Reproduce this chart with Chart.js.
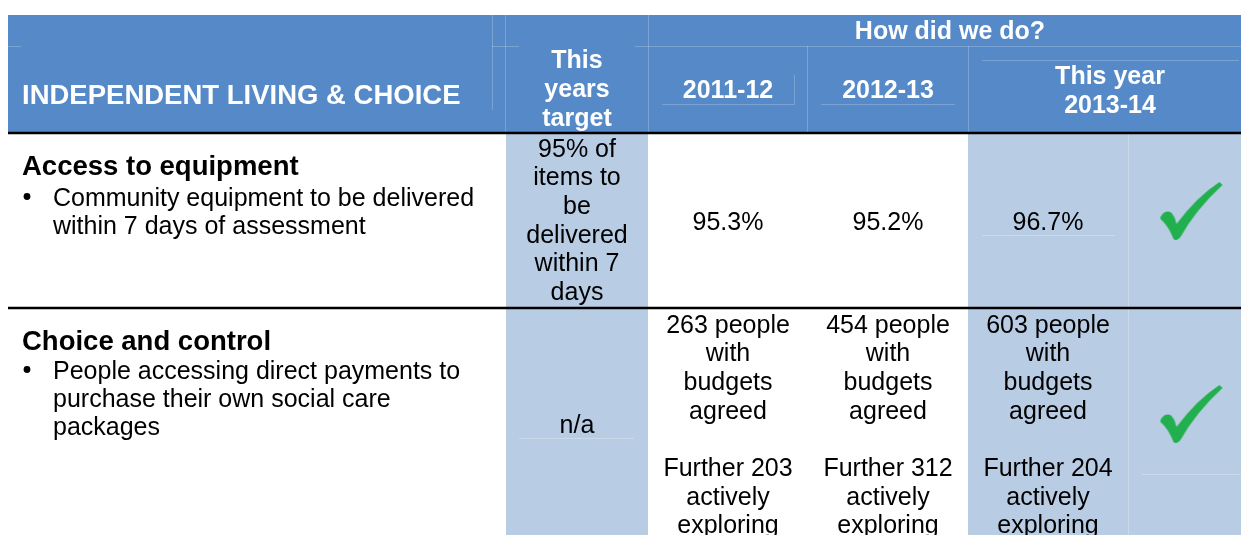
<!DOCTYPE html>
<html>
<head>
<meta charset="utf-8">
<script src="https://cdn.jsdelivr.net/npm/chart.js@4.4.1/dist/chart.umd.min.js"></script>
<style>
  html, body { margin: 0; padding: 0; background: #fff; overflow: hidden; }
  #wrap { width: 1241px; height: 535px; }
</style>
</head>
<body>
<div id="wrap"><canvas id="scorecard" width="1241" height="535"></canvas></div>
<script>
// table content
const sectionTitle = 'INDEPENDENT LIVING & CHOICE';
const groupTitle = 'How did we do?';
const targetHeader = ['This', 'years', 'target'];
const periods = [['2011-12'], ['2012-13'], ['This year', '2013-14']];
const measures = ['Access to equipment', 'Choice and control'];
const measureNotes = [
    ['Community equipment to be delivered', 'within 7 days of assessment'],
    ['People accessing direct payments to', 'purchase their own social care', 'packages']
];
const targets = [['95% of', 'items to', 'be', 'delivered', 'within 7', 'days'], ['n/a']];
const equipmentPct = [95.3, 95.2, 96.7];
const budgetsAgreed = [263, 454, 603];
const activelyExploring = [203, 312, 204];
const targetMet = [true, true];

// layout (page units = px)
const W = 1241, H = 535;
const cols = { label: [8, 506], target: [506, 648], y1: [648, 808], y2: [808, 968], y3: [968, 1128], tick: [1128, 1241] };
const yearCols = ['y1', 'y2', 'y3'];
const headTop = 15, headBottom = 133;
const rows = [[134, 308], [308, 540]];

const BLUE = '#5589c8';
const PALE = '#b8cce4';
const GREEN = '#22b04e';
const FONT = '"Liberation Sans", Arial, Helvetica, sans-serif';

const mid = (c) => (cols[c][0] + cols[c][1]) / 2;

// tick mark image used as point style
function makeTick() {
    const c = document.createElement('canvas');
    c.width = 66; c.height = 62;
    const g = c.getContext('2d');
    g.translate(1, 1);
    g.fillStyle = GREEN;
    g.beginPath();
    g.moveTo(1, 35);
    g.quadraticCurveTo(5, 28, 11, 30);
    g.quadraticCurveTo(15, 33, 17, 42);
    g.quadraticCurveTo(37, 15, 60, 0);
    g.lineTo(63, 3);
    g.quadraticCurveTo(36, 28, 21, 55);
    g.quadraticCurveTo(17, 60, 14, 57);
    g.quadraticCurveTo(9, 44, 1, 37);
    g.closePath();
    g.fill();
    return c;
}

const tickPoints = targetMet.map((met, i) => met ? { x: mid('tick') + 7, y: (rows[i][0] + rows[i][1]) / 2 - 9 } : null)
    .filter(Boolean);

function lines(ctx, arr, cx, base, step, font, color, align) {
    ctx.font = font;
    ctx.fillStyle = color;
    ctx.textAlign = align || 'center';
    ctx.textBaseline = 'alphabetic';
    arr.forEach((t, i) => ctx.fillText(t, cx, base + i * step));
}

const tablePlugin = {
    id: 'tablePlugin',
    beforeDatasetsDraw(chart) {
        const { ctx, scales: { x, y } } = chart;
        const px = (v) => x.getPixelForValue(v);
        const py = (v) => y.getPixelForValue(v);
        const rect = (x0, y0, x1, y1, fill) => {
            ctx.fillStyle = fill;
            ctx.fillRect(px(x0), py(y0), px(x1) - px(x0), py(y1) - py(y0));
        };
        const hline = (x0, x1, yy, color, w) => {
            ctx.strokeStyle = color; ctx.lineWidth = w;
            ctx.beginPath(); ctx.moveTo(px(x0), py(yy)); ctx.lineTo(px(x1), py(yy)); ctx.stroke();
        };
        const vline = (xx, y0, y1, color, w) => {
            ctx.strokeStyle = color; ctx.lineWidth = w;
            ctx.beginPath(); ctx.moveTo(px(xx), py(y0)); ctx.lineTo(px(xx), py(y1)); ctx.stroke();
        };
        ctx.save();
        // header band
        rect(cols.label[0], headTop, W, headBottom, BLUE);
        // shaded columns
        rect(cols.target[0], headBottom, cols.target[1], H, PALE);
        rect(cols.y3[0], headBottom, W, H, PALE);

        // faint cell borders in the header
        const faint = 'rgba(255,255,255,0.22)';
        hline(cols.label[0], 21, 46.5, faint, 1);
        hline(492, 519, 46.5, faint, 1);
        hline(635, W, 46.5, faint, 1);
        vline(492.5, headTop, 110, faint, 1);
        vline(505.5, headTop, headBottom, faint, 1);
        vline(648.5, headTop, headBottom, faint, 1);
        vline(807.5, 46, headBottom, faint, 1);
        vline(968.5, 46, headBottom, faint, 1);
        hline(662, 795, 104.5, faint, 1);
        vline(794.5, 75, 104, faint, 1);
        hline(821, 955, 104.5, faint, 1);
        hline(982, 1239, 60.5, faint, 1);
        // faint borders in the shaded body
        const faint2 = 'rgba(255,255,255,0.28)';
        vline(1128.5, headBottom, H, faint2, 1);
        hline(982, 1115, 235.5, faint2, 1);
        hline(519, 634, 438.5, faint2, 1);
        hline(1142, W, 474.5, faint2, 1);

        // black rules
        hline(cols.label[0], W, headBottom, '#000', 2.5);
        hline(cols.label[0], W, rows[0][1], '#000', 2.5);
        ctx.restore();
    },
    afterDatasetsDraw(chart) {
        const { ctx, scales: { x, y } } = chart;
        const px = (v) => x.getPixelForValue(v);
        const py = (v) => y.getPixelForValue(v);
        const hb = 'bold 25px ' + FONT;
        const body = '25px ' + FONT;
        const step = 28.7;
        ctx.save();
        // header texts
        lines(ctx, [sectionTitle], px(22), py(104), 0, 'bold 27.5px ' + FONT, '#fff', 'left');
        lines(ctx, [groupTitle], px(950), py(39), 0, hb, '#fff');
        lines(ctx, targetHeader, px(mid('target')), py(68), 29, hb, '#fff');
        lines(ctx, periods[0], px(mid('y1')), py(97.5), 29, hb, '#fff');
        lines(ctx, periods[1], px(mid('y2')), py(97.5), 29, hb, '#fff');
        lines(ctx, periods[2], px(1110), py(83.5), 29, hb, '#fff');

        // measure labels
        const headBase = [175, 350];
        const noteBase = [206, 379];
        measures.forEach((m, i) => {
            lines(ctx, [m], px(22), py(headBase[i]), 0, 'bold 27.5px ' + FONT, '#000', 'left');
            lines(ctx, measureNotes[i], px(53), py(noteBase[i]), 27.8, body, '#000', 'left');
            ctx.fillStyle = '#000';
            ctx.beginPath();
            ctx.arc(px(27), py(noteBase[i] - 9.5), 3.4, 0, Math.PI * 2);
            ctx.fill();
        });

        // targets
        lines(ctx, targets[0], px(mid('target')), py(156.5), step, body, '#000');
        lines(ctx, targets[1], px(mid('target')), py(432.5), step, body, '#000');

        // results
        yearCols.forEach((c, i) => {
            lines(ctx, [equipmentPct[i].toFixed(1) + '%'], px(mid(c)), py(229.5), 0, body, '#000');
            const cell = [budgetsAgreed[i] + ' people', 'with', 'budgets', 'agreed', '',
                'Further ' + activelyExploring[i], 'actively', 'exploring'];
            lines(ctx, cell, px(mid(c)), py(332.5), step, body, '#000');
        });
        ctx.restore();
    }
};

new Chart(document.getElementById('scorecard'), {
    type: 'scatter',
    data: {
        datasets: [{
            label: 'Target met',
            data: tickPoints,
            pointStyle: makeTick(),
            pointRadius: 10,
            showLine: false,
            clip: false
        }]
    },
    options: {
        responsive: false,
        devicePixelRatio: 1,
        animation: false,
        events: [],
        layout: { padding: 0, autoPadding: false },
        plugins: { legend: { display: false }, tooltip: { enabled: false } },
        scales: {
            x: { type: 'linear', min: 0, max: W, display: false },
            y: { type: 'linear', min: 0, max: H, reverse: true, display: false }
        }
    },
    plugins: [tablePlugin]
});
</script>
</body>
</html>
